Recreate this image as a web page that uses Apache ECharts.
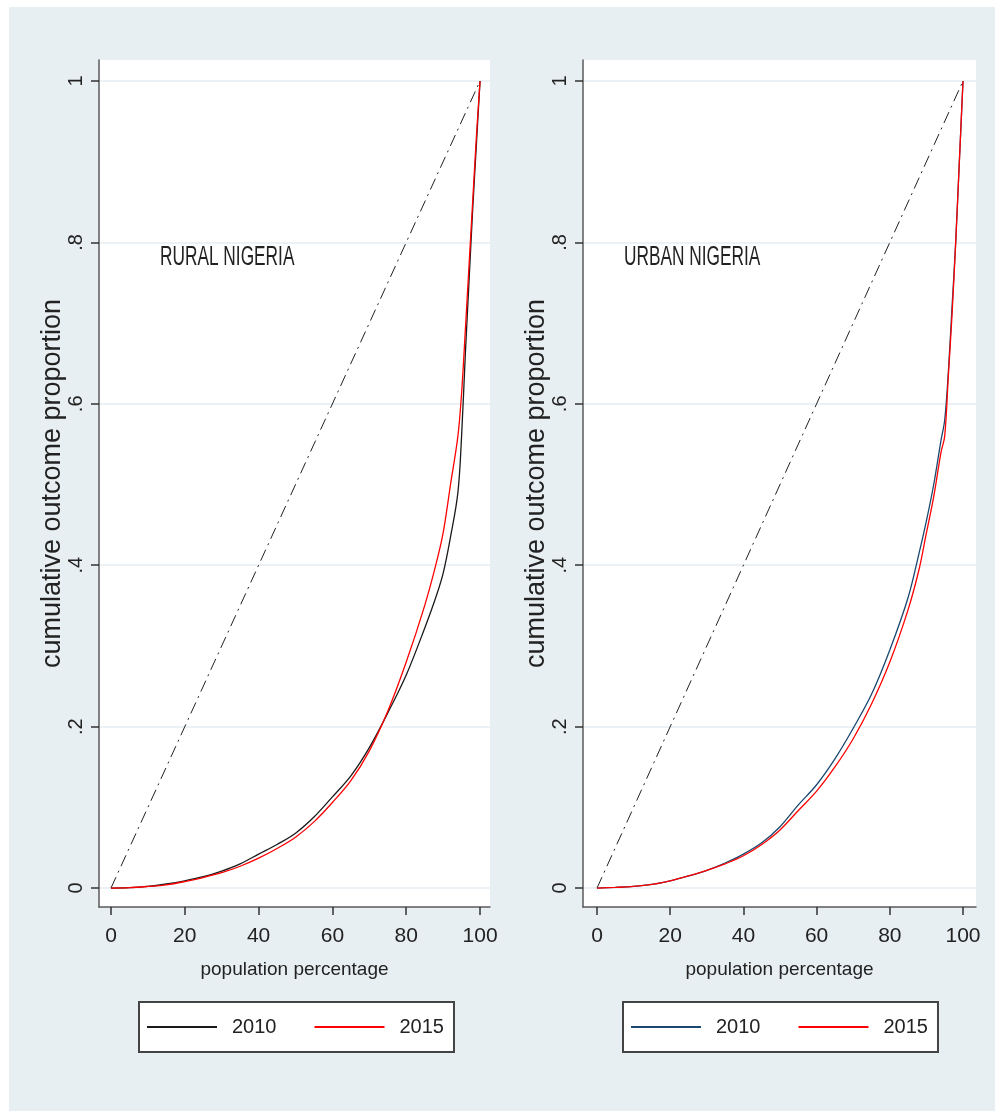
<!DOCTYPE html>
<html><head><meta charset="utf-8">
<script src="https://cdn.jsdelivr.net/npm/echarts@6/dist/echarts.min.js"></script>
<style>
html,body{margin:0;padding:0;background:#fff;}
#bg{position:absolute;left:9px;top:7px;width:986px;height:1104px;background:#e8eff2;}
#chart{position:absolute;left:0;top:0;width:998px;height:1115px;}
</style></head><body>
<div id="bg"></div><div id="chart"></div>
<script>
// ---- data ----
const pct = [0,5,10,15,20,25,30,35,40,45,50,55,60,65,70,75,80,85,88,90,92,94,95,96,97,98,99,100];
const rural2010 = [0,0.0005,0.002,0.005,0.009,0.014,0.021,0.030,0.042,0.054,0.068,0.088,0.113,0.139,0.174,0.217,0.264,0.322,0.36,0.39,0.435,0.49,0.56,0.66,0.75,0.84,0.92,1];
const rural2015 = [0,0.0005,0.002,0.004,0.008,0.013,0.019,0.027,0.037,0.049,0.063,0.082,0.106,0.133,0.170,0.219,0.280,0.35,0.40,0.44,0.50,0.56,0.613,0.69,0.77,0.85,0.93,1];
const urban2010 = [0,0.0008,0.002,0.0045,0.009,0.015,0.022,0.031,0.042,0.056,0.076,0.103,0.128,0.160,0.198,0.240,0.295,0.36,0.415,0.455,0.50,0.555,0.58,0.64,0.72,0.80,0.90,1];
const urban2015 = [0,0.0008,0.002,0.0045,0.009,0.015,0.022,0.030,0.040,0.054,0.072,0.096,0.120,0.150,0.185,0.228,0.280,0.345,0.395,0.44,0.485,0.54,0.56,0.635,0.71,0.80,0.90,1];
const equalityX = [0,100];
const equalityY = [0,1];
const xTicks = [0,20,40,60,80,100];
const yTicks = [0,0.2,0.4,0.6,0.8,1];
const yTickLabels = ['0','.2','.4','.6','.8','1'];
const seriesNames = ['2010','2015'];
const panelTitles = ['RURAL NIGERIA','URBAN NIGERIA'];
const xTitle = 'population percentage';
const yTitle = 'cumulative outcome proportion';

// ---- helpers ----
const zip = (xs, ys) => xs.map((x,i)=>[x, ys[i]]);
const REG = '"Liberation Sans",Arial,sans-serif';
const TXT = '#222222';
const RED = '#ff0000';
const BLACK = '#1a1a1a';
const NAVY = '#1a476f';

const panels = [
  {left:99, width:391, xmin:-3.25, xmax:102.7, c2010:BLACK, c2015:RED, d2010:rural2010, d2015:rural2015, legendLeft:139, titleX:160},
  {left:583, width:393, xmin:-3.83, xmax:103.55, c2010:NAVY, c2015:RED, d2010:urban2010, d2015:urban2015, legendLeft:623, titleX:624}
];

const grid = [], xAxis = [], yAxis = [], series = [], legend = [], graphic = [];
panels.forEach((p, i) => {
  grid.push({left:p.left, top:60, width:p.width, height:847, show:true, backgroundColor:'#ffffff', borderWidth:0});
  xAxis.push({
    type:'value', gridIndex:i, min:p.xmin, max:p.xmax,
    axisLine:{show:true, onZero:false, lineStyle:{color:'#5a5a5a', width:1.5}},
    axisTick:{show:true, length:8, customValues:xTicks, lineStyle:{color:'#333', width:1.5}},
    axisLabel:{customValues:xTicks, margin:19, fontFamily:REG, fontSize:21, color:TXT},
    splitLine:{show:false},
    name:xTitle, nameLocation:'middle', nameGap:53, nameMoveOverlap:false,
    nameTextStyle:{fontFamily:REG, fontSize:19, color:TXT}
  });
  yAxis.push({
    type:'value', gridIndex:i, min:-0.0235, max:1.026,
    axisLine:{show:true, onZero:false, lineStyle:{color:'#5a5a5a', width:1.5}},
    axisTick:{show:true, length:8, customValues:yTicks, lineStyle:{color:'#333', width:1.5}},
    axisLabel:{customValues:yTicks, rotate:90, margin:13, fontFamily:REG, fontSize:20, color:TXT,
      formatter:(v)=>{const k=yTicks.findIndex(t=>Math.abs(t-v)<1e-9); return k>=0?yTickLabels[k]:'';}},
    splitLine:{show:true, lineStyle:{color:'#e4edf0', width:1.5}},
    name:yTitle, nameLocation:'middle', nameGap:33, nameMoveOverlap:false,
    nameTextStyle:{fontFamily:REG, fontSize:27, color:TXT}
  });
  series.push({
    type:'line', xAxisIndex:i, yAxisIndex:i, data:zip(equalityX, equalityY), symbol:'none', silent:true,
    lineStyle:{color:'#222', width:1, type:[12,5,2,5]}, z:2
  });
  series.push({
    name:seriesNames[0], type:'line', xAxisIndex:i, yAxisIndex:i, data:zip(pct, p.d2010), symbol:'none',
    smooth:0.35, lineStyle:{color:p.c2010, width:1.3}, itemStyle:{color:p.c2010}, z:3
  });
  series.push({
    name:seriesNames[1], type:'line', xAxisIndex:i, yAxisIndex:i, data:zip(pct, p.d2015), symbol:'none',
    smooth:0.35, lineStyle:{color:p.c2015, width:1.3}, itemStyle:{color:p.c2015}, z:4
  });
  legend.push({
    left:p.legendLeft, top:1002, orient:'horizontal',
    data:[{name:seriesNames[0], icon:'rect', itemStyle:{color:p.c2010}},
          {name:seriesNames[1], icon:'rect', itemStyle:{color:p.c2015}}],
    itemWidth:70, itemHeight:2, itemGap:38, selectedMode:false,
    padding:[14,10,14,8], backgroundColor:'#ffffff', borderColor:'#444', borderWidth:2, borderRadius:0,
    textStyle:{fontFamily:REG, fontSize:20, lineHeight:22, color:TXT, padding:[0,0,0,10]}
  });
  graphic.push({type:'text', x:p.titleX, y:258, scaleX:0.64,
    style:{text:panelTitles[i], font:'27px ' + REG, fill:TXT, verticalAlign:'middle'}});
});

const chart = echarts.init(document.getElementById('chart'), null, {renderer:'canvas'});
chart.setOption({backgroundColor:'transparent', animation:false, grid, xAxis, yAxis, series, legend, graphic});
</script>
</body></html>
